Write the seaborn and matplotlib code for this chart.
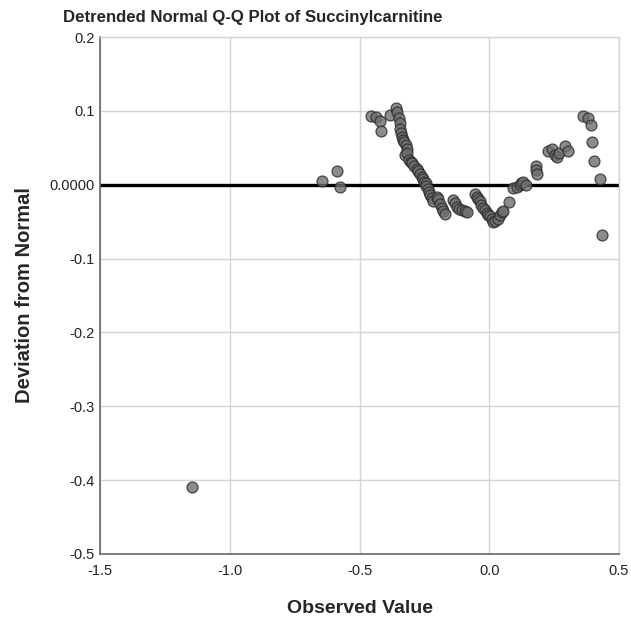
import pandas as pd
import matplotlib
matplotlib.use("Agg")
import matplotlib.pyplot as plt
import seaborn as sns

observed = [
    -1.145, -0.645, -0.587, -0.575,
    -0.456, -0.436, -0.421, -0.418, -0.382, -0.359, -0.357, -0.347,
    -0.345, -0.343, -0.340, -0.335, -0.331, -0.328, -0.321, -0.318,
    -0.325, -0.316, -0.309, -0.303, -0.296, -0.290, -0.280, -0.276,
    -0.267, -0.260, -0.257, -0.250, -0.245, -0.242, -0.235, -0.231,
    -0.228, -0.222, -0.215, -0.203, -0.196, -0.190, -0.184, -0.177,
    -0.171, -0.139, -0.132, -0.125, -0.118, -0.106, -0.095, -0.087,
    -0.055, -0.048, -0.042, -0.035, -0.030, -0.025, -0.018, -0.010,
    -0.004, 0.003, 0.009, 0.015, 0.022, 0.035, 0.042, 0.048, 0.054,
    0.076, 0.093, 0.106, 0.118, 0.124, 0.131, 0.142,
    0.180, 0.181, 0.184,
    0.228, 0.241, 0.253, 0.262, 0.270, 0.292, 0.305,
    0.363, 0.382, 0.392, 0.397, 0.404, 0.427, 0.436,
]
deviation = [
    -0.409, 0.005, 0.019, -0.003,
    0.093, 0.092, 0.086, 0.073, 0.094, 0.104, 0.099, 0.091,
    0.083, 0.076, 0.070, 0.065, 0.061, 0.058, 0.054, 0.049,
    0.040, 0.043, 0.034, 0.031, 0.029, 0.025, 0.021, 0.018,
    0.015, 0.011, 0.008, 0.004, 0.002, -0.002, -0.006, -0.010,
    -0.014, -0.018, -0.022, -0.016, -0.020, -0.026, -0.032, -0.036,
    -0.040, -0.021, -0.025, -0.030, -0.033, -0.034, -0.036, -0.037,
    -0.013, -0.016, -0.019, -0.022, -0.027, -0.031, -0.034, -0.038,
    -0.041, -0.043, -0.046, -0.050, -0.049, -0.046, -0.041, -0.037,
    -0.036, -0.023, -0.005, -0.003, 0.000, 0.002, 0.004, 0.000,
    0.026, 0.020, 0.014,
    0.045, 0.048, 0.040, 0.038, 0.043, 0.053, 0.046,
    0.093, 0.091, 0.081, 0.058, 0.032, 0.008, -0.068,
]

x_ticks = [-1.5, -1.0, -0.5, 0.0, 0.5]
x_labels = ["-1.5", "-1.0", "-0.5", "0.0", "0.5"]
y_ticks = [0.2, 0.1, 0.0, -0.1, -0.2, -0.3, -0.4, -0.5]
y_labels = ["0.2", "0.1", "0.0000", "-0.1", "-0.2", "-0.3", "-0.4", "-0.5"]

df = pd.DataFrame({"observed": observed, "deviation": deviation})

sns.set_style("white")
plt.rcParams["font.family"] = ["Liberation Sans", "DejaVu Sans"]

fig = plt.figure(figsize=(6.31, 6.23), dpi=100)
ax = fig.add_axes([0.1585, 0.1108, 0.8225, 0.8298])

ax.set_xlim(-1.5, 0.5)
ax.set_ylim(-0.5, 0.2)

ax.set_xticks(x_ticks)
ax.set_xticklabels(x_labels)
ax.set_yticks(y_ticks)
ax.set_yticklabels(y_labels)
ax.tick_params(length=0, labelsize=10.5, labelcolor="#222222")
ax.tick_params(axis="x", pad=7)
ax.tick_params(axis="y", pad=4)

# light grid, also used for top/right frame
ax.grid(True, color="#d4d4d4", linewidth=1)
ax.set_axisbelow(True)
for side in ["top", "right"]:
    ax.spines[side].set_color("#d4d4d4")
    ax.spines[side].set_linewidth(1)
for side in ["left", "bottom"]:
    ax.spines[side].set_color("#666666")
    ax.spines[side].set_linewidth(1.2)

ax.axhline(0.0, color="black", linewidth=2.4, zorder=2)

sns.scatterplot(data=df, x="observed", y="deviation", ax=ax,
                s=62, color="#6e6e6e", edgecolor="#2a2a2a", linewidth=0.9,
                alpha=0.8, zorder=3)

ax.set_xlabel("Observed Value", fontsize=14, fontweight="bold", labelpad=16)
ax.set_ylabel("Deviation from Normal", fontsize=14.5, fontweight="bold", labelpad=11)

fig.text(0.1, 0.972, "Detrended Normal Q-Q Plot of Succinylcarnitine",
         fontsize=12.1, fontweight="bold", ha="left", va="center")

fig.savefig("out.png", dpi=100)
